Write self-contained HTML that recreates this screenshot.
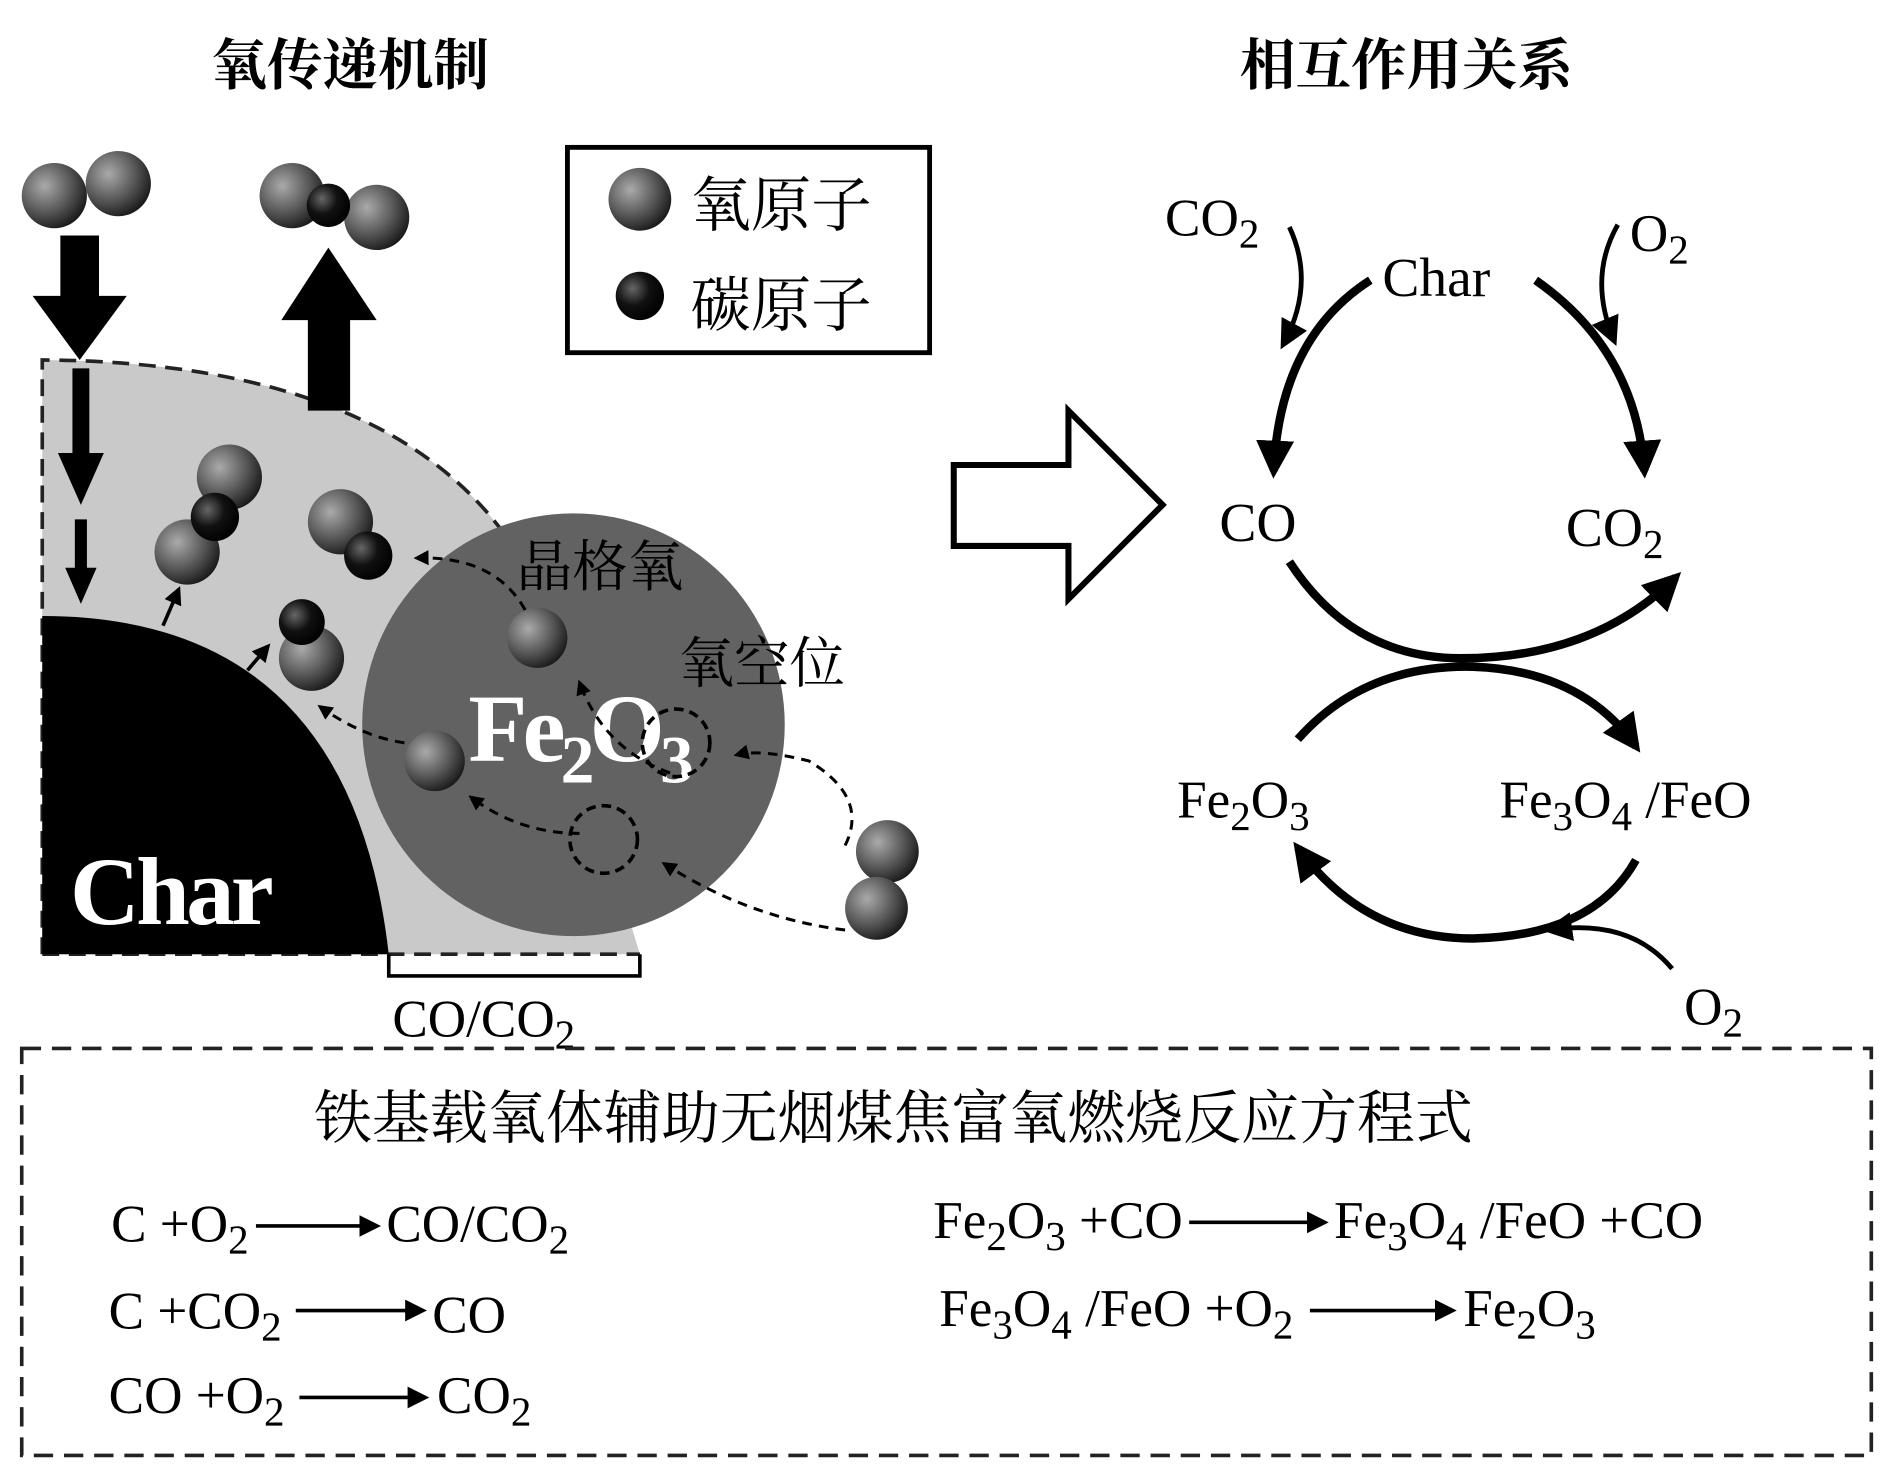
<!DOCTYPE html>
<html><head><meta charset="utf-8">
<style>
html,body{margin:0;padding:0;background:#fff;}
svg{display:block;}
text{font-family:"Liberation Serif","Noto Serif CJK SC","Noto Sans CJK SC",serif;fill:#000;}
</style></head>
<body>
<svg width="1887" height="1476" viewBox="0 0 1563 1222" preserveAspectRatio="none" xmlns="http://www.w3.org/2000/svg">
<defs>
<radialGradient id="og" cx="0.35" cy="0.35" r="0.7"><stop offset="0" stop-color="#aaa"/><stop offset="0.6" stop-color="#555"/><stop offset="1" stop-color="#1a1a1a"/></radialGradient>
<radialGradient id="cg" cx="0.35" cy="0.35" r="0.7"><stop offset="0" stop-color="#666"/><stop offset="0.5" stop-color="#111"/><stop offset="1" stop-color="#000"/></radialGradient>
<marker id="ah" viewBox="0 0 10 10" refX="8" refY="5" markerWidth="5" markerHeight="5" orient="auto"><path d="M0,0 L10,5 L0,10 Z" fill="#000"/></marker>
<marker id="as" viewBox="0 0 10 10" refX="8" refY="5" markerWidth="4.5" markerHeight="4.5" orient="auto"><path d="M0,0 L10,5 L0,10 Z" fill="#000"/></marker>
<marker id="at" viewBox="0 0 10 10" refX="8" refY="5" markerWidth="6" markerHeight="6" orient="auto"><path d="M0,0 L10,5 L0,10 Z" fill="#000"/></marker>
</defs>

<text x="290" y="70" font-size="46" text-anchor="middle" font-weight="bold">氧传递机制</text>
<text x="1165" y="70" font-size="46" text-anchor="middle" font-weight="bold">相互作用关系</text>

<rect x="470" y="122" width="300" height="170" fill="#fff" stroke="#000" stroke-width="4"/>
<circle cx="530" cy="165" r="26" fill="url(#og)"/>
<text x="572" y="187" font-size="50">氧原子</text>
<circle cx="530" cy="245" r="20" fill="url(#cg)"/>
<text x="572" y="270" font-size="50">碳原子</text>

<path d="M35,298 Q330,300 430,460 L530,790 L35,790 Z" fill="#c9c9c9"/>
<path d="M35,790 L35,298 Q330,300 430,460" fill="none" stroke="#222" stroke-width="3" stroke-dasharray="14,8"/>
<path d="M35,790 L530,790" stroke="#222" stroke-width="3" stroke-dasharray="14,8"/>
<path d="M35,790 L35,510 Q290,510 322,790 Z" fill="#000"/>
<circle cx="475" cy="600" r="175" fill="#626262"/>
<text x="58" y="765" font-size="80" font-weight="bold" style="fill:#fff" letter-spacing="-3">Char</text>
<text x="388" y="630" font-size="80" font-weight="bold" style="fill:#fff" letter-spacing="-4">Fe<tspan font-size="56" dy="18">2</tspan><tspan dy="-18">O</tspan><tspan font-size="56" dy="18">3</tspan></text>
<text x="428" y="485" font-size="46">晶格氧</text>
<text x="562" y="565" font-size="46">氧空位</text>

<path d="M322,790 L322,808 L530,808 L530,790" fill="none" stroke="#000" stroke-width="3"/>
<text x="325" y="858" font-size="44">CO/CO<tspan font-size="34" dy="10">2</tspan></text>

<circle cx="45" cy="162" r="27" fill="url(#og)"/>
<circle cx="98" cy="152" r="27" fill="url(#og)"/>
<circle cx="242" cy="162" r="27" fill="url(#og)"/>
<circle cx="312" cy="180" r="27" fill="url(#og)"/>
<circle cx="272" cy="170" r="18" fill="url(#cg)"/>

<path d="M50,195 L82,195 L82,245 L105,245 L66,298 L27,245 L50,245 Z" fill="#000"/>
<path d="M255,340 L290,340 L290,265 L312,265 L272,205 L233,265 L255,265 Z" fill="#000"/>
<path d="M60,305 L74,305 L74,375 L86,375 L67,418 L48,375 L60,375 Z" fill="#000"/>
<path d="M62,430 L72,430 L72,470 L80,470 L67,500 L54,470 L62,470 Z" fill="#000"/>

<circle cx="190" cy="395" r="27" fill="url(#og)"/>
<circle cx="155" cy="457" r="27" fill="url(#og)"/>
<circle cx="178" cy="428" r="20" fill="url(#cg)"/>
<circle cx="282" cy="432" r="27" fill="url(#og)"/>
<circle cx="305" cy="460" r="20" fill="url(#cg)"/>
<circle cx="258" cy="545" r="27" fill="url(#og)"/>
<circle cx="250" cy="515" r="19" fill="url(#cg)"/>
<circle cx="445" cy="528" r="25" fill="url(#og)"/>
<circle cx="360" cy="630" r="25" fill="url(#og)"/>
<circle cx="735" cy="705" r="26" fill="url(#og)"/>
<circle cx="726" cy="752" r="26" fill="url(#og)"/>

<circle cx="560" cy="615" r="28" fill="none" stroke="#000" stroke-width="3" stroke-dasharray="8,5"/>
<circle cx="500" cy="695" r="28" fill="none" stroke="#000" stroke-width="3" stroke-dasharray="8,5"/>

<g stroke="#000" stroke-width="3" fill="none">
<path d="M135,518 L148,488" marker-end="url(#ah)"/>
<path d="M205,555 L222,535" marker-end="url(#ah)"/>
</g>
<g stroke="#000" stroke-width="2.5" fill="none" stroke-dasharray="8,6">
<path d="M435,505 Q410,460 345,462" marker-end="url(#ah)"/>
<path d="M335,615 Q300,610 265,585" marker-end="url(#ah)"/>
<path d="M555,640 Q500,620 480,565" marker-end="url(#ah)"/>
<path d="M480,690 Q430,690 390,660" marker-end="url(#ah)"/>
<path d="M700,700 Q720,660 670,630 Q630,620 610,625" marker-end="url(#ah)"/>
<path d="M700,770 Q620,760 550,715" marker-end="url(#ah)"/>
</g>

<path d="M790,385 L885,385 L885,340 L963,418 L885,496 L885,452 L790,452 Z" fill="#fff" stroke="#000" stroke-width="5"/>

<text x="965" y="195" font-size="44">CO<tspan font-size="34" dy="10">2</tspan></text>
<text x="1350" y="208" font-size="44">O<tspan font-size="34" dy="10">2</tspan></text>
<text x="1145" y="245" font-size="46">Char</text>
<text x="1010" y="448" font-size="46">CO</text>
<text x="1297" y="452" font-size="46">CO<tspan font-size="34" dy="10">2</tspan></text>
<text x="975" y="677" font-size="44">Fe<tspan font-size="34" dy="10">2</tspan><tspan dy="-10">O</tspan><tspan font-size="34" dy="10">3</tspan></text>
<text x="1242" y="677" font-size="44">Fe<tspan font-size="34" dy="10">3</tspan><tspan dy="-10">O</tspan><tspan font-size="34" dy="10">4</tspan><tspan dy="-10"> /FeO</tspan></text>
<text x="1395" y="848" font-size="44">O<tspan font-size="34" dy="10">2</tspan></text>

<g stroke="#000" stroke-width="7" fill="none">
<path d="M1135,232 Q1060,280 1055,390" marker-end="url(#as)"/>
<path d="M1272,232 Q1355,290 1362,390" marker-end="url(#as)"/>
<path d="M1068,465 Q1120,545 1210,545 Q1320,545 1388,478" marker-end="url(#as)"/>
<path d="M1075,612 Q1130,550 1220,552 Q1310,555 1355,618" marker-end="url(#as)"/>
<path d="M1355,712 Q1320,775 1220,777 Q1130,777 1075,702" marker-end="url(#as)"/>
</g>
<g stroke="#000" stroke-width="4" fill="none">
<path d="M1068,188 Q1090,235 1063,285" marker-end="url(#at)"/>
<path d="M1340,186 Q1315,230 1337,282" marker-end="url(#at)"/>
<path d="M1385,802 Q1350,760 1283,770" marker-end="url(#at)"/>
</g>

<rect x="18" y="868" width="1532" height="337" fill="none" stroke="#222" stroke-width="3" stroke-dasharray="16,9"/>
<text x="740" y="942" font-size="48" text-anchor="middle">铁基载氧体辅助无烟煤焦富氧燃烧反应方程式</text>
<g font-size="44">
<text x="92" y="1028">C +O<tspan font-size="34" dy="10">2</tspan></text>
<text x="320" y="1028">CO/CO<tspan font-size="34" dy="10">2</tspan></text>
<text x="90" y="1100">C +CO<tspan font-size="34" dy="10">2</tspan></text>
<text x="358" y="1103">CO</text>
<text x="90" y="1170">CO +O<tspan font-size="34" dy="10">2</tspan></text>
<text x="362" y="1170">CO<tspan font-size="34" dy="10">2</tspan></text>
<text x="773" y="1025">Fe<tspan font-size="34" dy="10">2</tspan><tspan dy="-10">O</tspan><tspan font-size="34" dy="10">3</tspan><tspan dy="-10"> +CO</tspan></text>
<text x="1105" y="1025">Fe<tspan font-size="34" dy="10">3</tspan><tspan dy="-10">O</tspan><tspan font-size="34" dy="10">4</tspan><tspan dy="-10"> /FeO +CO</tspan></text>
<text x="778" y="1098">Fe<tspan font-size="34" dy="10">3</tspan><tspan dy="-10">O</tspan><tspan font-size="34" dy="10">4</tspan><tspan dy="-10"> /FeO +O</tspan><tspan font-size="34" dy="10">2</tspan></text>
<text x="1212" y="1098">Fe<tspan font-size="34" dy="10">2</tspan><tspan dy="-10">O</tspan><tspan font-size="34" dy="10">3</tspan></text>
</g>
<g stroke="#000" stroke-width="3">
<line x1="212" y1="1015" x2="312" y2="1015" marker-end="url(#at)"/>
<line x1="245" y1="1085" x2="350" y2="1085" marker-end="url(#at)"/>
<line x1="248" y1="1157" x2="352" y2="1157" marker-end="url(#at)"/>
<line x1="985" y1="1012" x2="1097" y2="1012" marker-end="url(#at)"/>
<line x1="1085" y1="1085" x2="1203" y2="1085" marker-end="url(#at)"/>
</g>
</svg>
</body></html>
